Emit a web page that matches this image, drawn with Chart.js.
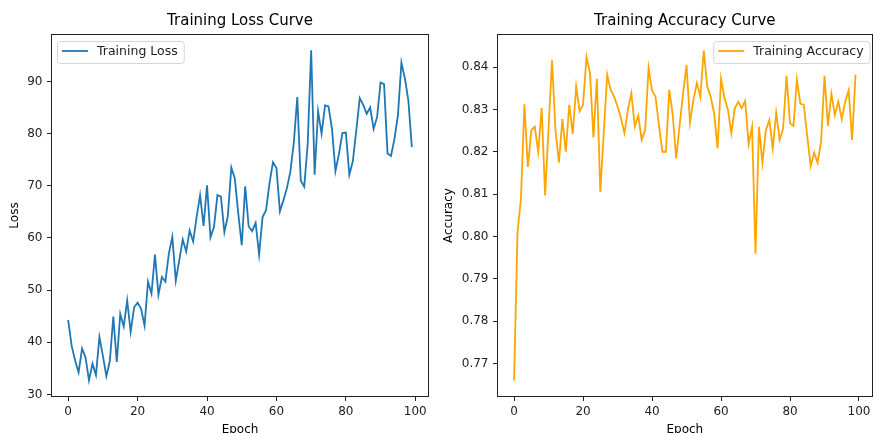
<!DOCTYPE html>
<html><head><meta charset="utf-8">
<script src="https://cdn.jsdelivr.net/npm/chart.js@4.4.1/dist/chart.umd.min.js"></script>
<style>
html,body{margin:0;padding:0;background:#fff;overflow:hidden;width:874px;height:433px}
.box{position:absolute;top:0;height:433px;width:437px}
#w1{left:0}#w2{left:437px}
canvas{display:block}
</style></head><body>
<div class="box" id="w1"><canvas id="c1" width="437" height="433"></canvas></div>
<div class="box" id="w2"><canvas id="c2" width="437" height="433"></canvas></div>
<script>
const epochs = Array.from({length: 100}, (_, i) => i);
const trainingLoss = [
  44.3, 39.3, 36.5, 34.2, 38.8, 37.1, 32.7, 35.9, 33.7, 41.0,
  37.4, 33.5, 36.4, 44.9, 36.2, 45.4, 43.0, 48.0, 42.0, 46.7,
  47.6, 46.4, 43.2, 51.6, 49.3, 56.8, 49.1, 52.5, 51.6, 57.0,
  60.2, 51.8, 55.7, 59.7, 57.4, 61.4, 59.3, 64.0, 68.2, 62.3,
  70.1, 60.1, 62.1, 68.2, 67.9, 61.1, 64.2, 73.5, 71.4, 64.7,
  58.6, 69.9, 62.2, 61.3, 62.9, 56.8, 64.0, 65.3, 70.5, 74.5,
  73.4, 65.1, 67.2, 69.5, 72.7, 78.2, 87.0, 71.0, 69.8, 78.0,
  96.0, 72.1, 84.3, 80.0, 85.4, 85.2, 80.9, 72.8, 76.1, 80.1,
  80.2, 72.1, 74.7, 80.6, 86.8, 85.5, 83.8, 85.0, 80.9, 83.2,
  89.8, 89.5, 76.2, 75.7, 79.0, 83.5, 93.6, 90.6, 86.4, 77.4
];
const trainingAccuracy = [
  0.7660, 0.8010, 0.8090, 0.8312, 0.8164, 0.8251, 0.8259, 0.8200, 0.8303, 0.8097,
  0.8255, 0.8416, 0.8251, 0.8174, 0.8277, 0.8200, 0.8311, 0.8242, 0.8354, 0.8296,
  0.8311, 0.8424, 0.8387, 0.8234, 0.8372, 0.8105, 0.8245, 0.8382, 0.8346, 0.8330,
  0.8307, 0.8279, 0.8244, 0.8300, 0.8338, 0.8260, 0.8285, 0.8228, 0.8251, 0.8398,
  0.8345, 0.8330, 0.8263, 0.8200, 0.8200, 0.8346, 0.8287, 0.8184, 0.8263, 0.8338,
  0.8405, 0.8269, 0.8323, 0.8362, 0.8330, 0.8439, 0.8354, 0.8330, 0.8291, 0.8208,
  0.8372, 0.8327, 0.8299, 0.8244, 0.8303, 0.8318, 0.8303, 0.8320, 0.8218, 0.8259,
  0.7959, 0.8259, 0.8174, 0.8251, 0.8275, 0.8208, 0.8292, 0.8228, 0.8255, 0.8379,
  0.8267, 0.8261, 0.8370, 0.8313, 0.8311, 0.8236, 0.8166, 0.8198, 0.8174, 0.8224,
  0.8379, 0.8261, 0.8337, 0.8287, 0.8318, 0.8277, 0.8318, 0.8345, 0.8228, 0.8382
];
const epochTicks = [0, 20, 40, 60, 80, 100];
const lossTicks = [30, 40, 50, 60, 70, 80, 90];
const accuracyTicks = [0.77, 0.78, 0.79, 0.80, 0.81, 0.82, 0.83, 0.84];

const FONT = "'DejaVu Sans', sans-serif";

const framePlugin = {
  id: 'frame',
  afterDatasetsDraw(chart) {
    const {ctx, chartArea: a} = chart;
    ctx.save();
    ctx.strokeStyle = '#222';
    ctx.lineWidth = 1;
    const l = Math.round(a.left) + 0.5, t = Math.round(a.top) + 0.5;
    const r = Math.round(a.right) - 0.5, b = Math.round(a.bottom) - 0.5;
    ctx.strokeRect(l, t, r - l, b - t);
    ctx.restore();
  }
};

const boxLegendPlugin = {
  id: 'boxLegend',
  afterDatasetsDraw(chart, args, opts) {
    const {ctx, chartArea: a} = chart;
    const ds = chart.data.datasets[0];
    ctx.save();
    ctx.font = '12.5px ' + FONT;
    const tw = ctx.measureText(ds.label).width;
    const w = 40 + tw + 6;
    const h = 22;
    let x0 = opts.align === 'end' ? a.right - 3 - w : a.left + 6;
    const y0 = a.top + 7;
    ctx.beginPath();
    ctx.roundRect(x0 + 0.5, y0 + 0.5, w, h, 3);
    ctx.fillStyle = 'rgba(255,255,255,0.8)';
    ctx.fill();
    ctx.strokeStyle = '#d4d4d4';
    ctx.lineWidth = 1;
    ctx.stroke();
    ctx.beginPath();
    ctx.moveTo(x0 + 5, y0 + 10);
    ctx.lineTo(x0 + 31, y0 + 10);
    ctx.strokeStyle = ds.borderColor;
    ctx.lineWidth = ds.borderWidth;
    ctx.stroke();
    ctx.fillStyle = '#222';
    ctx.textBaseline = 'middle';
    ctx.textAlign = 'left';
    ctx.fillText(ds.label, x0 + 40, y0 + 10.5);
    ctx.restore();
  }
};

function axisCommon(ticksArr, fixSize, isX) {
  return {
    type: 'linear',
    afterBuildTicks: (axis) => { axis.ticks = ticksArr.map(v => ({value: v})); },
    afterFit: (s) => { if (isX) s.height = fixSize; else s.width = fixSize; },
    grid: {display: true, drawOnChartArea: false, drawTicks: true, tickLength: 4, tickColor: '#222', tickWidth: 1},
    border: {display: false},
    ticks: {color: '#222', font: {family: FONT, size: 12}, padding: isX ? 3.5 : 4.5, maxRotation: 0, autoSkip: false}
  };
}

function makeChart(id, cfg) {
  const x = axisCommon(epochTicks, 36, true);
  x.min = -4.95; x.max = 103.95;
  x.title = {display: true, text: 'Epoch', color: '#000', font: {family: FONT, size: 12, lineHeight: 1.2}, padding: {top: 0, bottom: -4}};
  const y = axisCommon(cfg.yTicks, cfg.yWidth, false);
  y.min = cfg.yMin; y.max = cfg.yMax;
  y.title = {display: true, text: cfg.yTitle, color: '#000', font: {family: FONT, size: 12, lineHeight: 1.2}, padding: {top: cfg.yTitlePad, bottom: 0}};
  if (cfg.fmt) y.ticks.callback = cfg.fmt;
  return new Chart(document.getElementById(id), {
    type: 'line',
    data: {
      labels: epochs,
      datasets: [{
        label: cfg.label,
        data: cfg.data,
        borderColor: cfg.color,
        backgroundColor: cfg.color,
        borderWidth: 1.8,
        pointRadius: 0,
        tension: 0,
        fill: false
      }]
    },
    options: {
      responsive: false,
      animation: false,
      devicePixelRatio: 1,
      layout: {padding: {left: 0, right: cfg.padRight, top: 0, bottom: 0}},
      scales: {x, y},
      plugins: {
        legend: {display: false},
        tooltip: {enabled: false},
        title: {
          display: true, text: cfg.title, color: '#000', fullSize: false,
          font: {family: FONT, size: 15, weight: 'normal', lineHeight: 1.2},
          padding: {top: 12, bottom: 4}
        },
        boxLegend: {align: cfg.legendAlign}
      }
    },
    plugins: [framePlugin, boxLegendPlugin]
  });
}

makeChart('c1', {
  label: 'Training Loss', data: trainingLoss, color: '#1f77b4',
  title: 'Training Loss Curve', yTitle: 'Loss', yTicks: lossTicks,
  yMin: 29.5, yMax: 99.1, yWidth: 51, yTitlePad: 8, padRight: 8, legendAlign: 'start'
});
makeChart('c2', {
  label: 'Training Accuracy', data: trainingAccuracy, color: '#ffa500',
  title: 'Training Accuracy Curve', yTitle: 'Accuracy', yTicks: accuracyTicks,
  yMin: 0.7621, yMax: 0.8478, yWidth: 60, yTitlePad: 4.5, padRight: 0, legendAlign: 'end',
  fmt: (v) => Number(v).toFixed(2)
});
</script>
</body></html>
